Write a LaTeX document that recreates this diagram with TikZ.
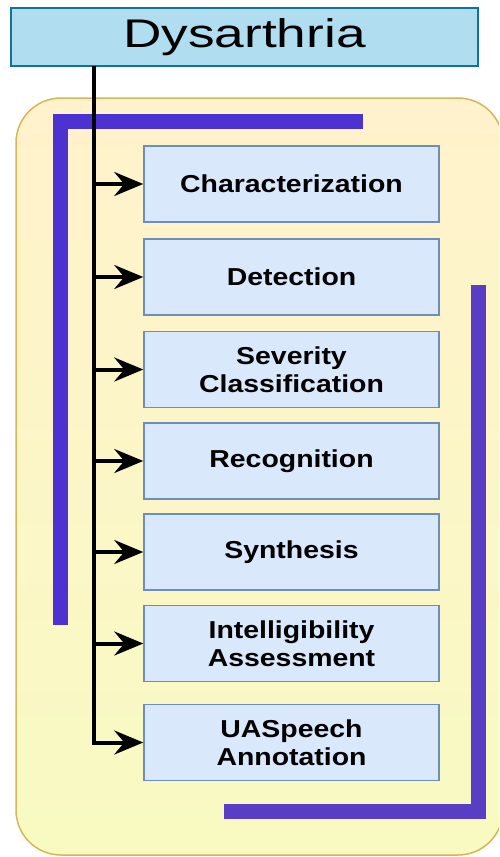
\documentclass[tikz,border=0pt]{standalone}
\usepackage{fontspec}
\setmainfont{Liberation Sans}
\usetikzlibrary{arrows.meta}
\definecolor{dysfill}{HTML}{B1DDF0}
\definecolor{dysdraw}{HTML}{10739E}
\definecolor{boxfill}{HTML}{DAE8FC}
\definecolor{boxdraw}{HTML}{6C8EBF}
\definecolor{cttop}{HTML}{FFF2CC}
\definecolor{ctbot}{HTML}{F8FAC2}
\definecolor{ctdraw}{HTML}{D6B656}
\definecolor{brackA}{HTML}{4C33D1}
\definecolor{brackB}{HTML}{573EC5}
\newcommand{\sx}[1]{\scalebox{1.16}[1]{#1}}
\tikzset{
  taskbox/.style={draw=boxdraw, fill=boxfill, line width=1.5pt, minimum width=295pt, minimum height=76pt, inner sep=0pt, align=center, font=\fontsize{24.5}{28}\selectfont\bfseries},
  conn/.style={line width=4pt, -{Stealth[length=29pt,width=24pt,inset=10pt]}},
  bracket/.style={line width=15pt, line cap=butt, line join=miter}
}
\begin{document}
\begin{tikzpicture}[x=1pt,y=-1pt]
\useasboundingbox (0,0) rectangle (499,857);
\clip (0,0) rectangle (499,857);
% container
\draw[ctdraw, line width=1.5pt, top color=cttop, bottom color=ctbot, rounded corners=45pt] (16,98) rectangle (503,855);
% brackets
\draw[bracket, brackA] (363,121) -- (60,121) -- (60,625);
\draw[bracket, brackB] (478,285) -- (478,811) -- (224,811);
% top node
\node[draw=dysdraw, fill=dysfill, line width=2pt, minimum width=467pt, minimum height=58pt, inner sep=0pt, font=\fontsize{40}{44}\selectfont] (dys) at (244.5,37) {\scalebox{1.33}[1]{Dysarthria}};
% task boxes
\node[taskbox] (b1) at (291.5,184) {\sx{Characterization}};
\node[taskbox] (b2) at (291.5,277) {\sx{Detection}};
\node[taskbox] (b3) at (291.5,369.5) {\sx{Severity}\\\sx{Classification}};
\node[taskbox] (b4) at (291.5,461) {\sx{Recognition}};
\node[taskbox] (b5) at (291.5,552) {\sx{Synthesis}};
\node[taskbox] (b6) at (291.5,643.5) {\sx{Intelligibility}\\\sx{Assessment}};
\node[taskbox] (b7) at (291.5,742.5) {\sx{UASpeech}\\\sx{Annotation}};
% connectors
\coordinate (top) at (94,66);
\draw[conn, line join=miter] (top) |- (b7.west);
\foreach \b in {b1,b2,b3,b4,b5,b6}{
  \draw[conn] (top |- \b.west) -- (\b.west);
}
\end{tikzpicture}
\end{document}
